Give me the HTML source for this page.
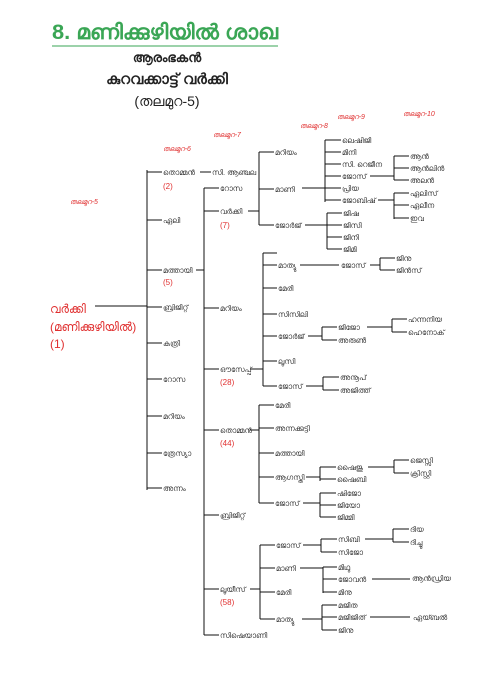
<!DOCTYPE html>
<html><head><meta charset="utf-8">
<style>
html,body{margin:0;padding:0;background:#fff;}
svg{display:block;}
text{font-family:"Liberation Sans","DejaVu Sans",sans-serif;}
.n{font-size:7.5px;fill:#333;}
.r{font-size:8px;fill:#e03030;}
.g{font-size:7px;fill:#e03030;font-style:italic;}
</style></head><body>
<svg width="497" height="690" viewBox="0 0 497 690" xmlns="http://www.w3.org/2000/svg">
<text x="52" y="39" textLength="226" lengthAdjust="spacingAndGlyphs" style="font-size:21px;font-weight:bold;fill:#3aa655">8. മണിക്കുഴിയിൽ ശാഖ</text>
<line x1="52" y1="46" x2="278" y2="46" stroke="#3aa655" stroke-width="1"/>
<text x="167" y="62" text-anchor="middle" style="font-size:13px;font-weight:bold;fill:#222">ആരംഭകൻ</text>
<text x="167" y="84" text-anchor="middle" style="font-size:15px;font-weight:bold;fill:#222">കുറവക്കാട്ട് വർക്കി</text>
<text x="167" y="106" text-anchor="middle" style="font-size:14px;fill:#222">(തലമുറ-5)</text>

<text class="g" x="70" y="204">തലമുറ-5</text>
<text class="g" x="163" y="151">തലമുറ-6</text>
<text class="g" x="213" y="137">തലമുറ-7</text>
<text class="g" x="300" y="128">തലമുറ-8</text>
<text class="g" x="337" y="119">തലമുറ-9</text>
<text class="g" x="403" y="116">തലമുറ-10</text>

<text x="50" y="313" style="font-size:12px;fill:#e03030">വർക്കി</text>
<text x="50" y="331" style="font-size:12px;fill:#e03030">(മണിക്കുഴിയിൽ)</text>
<text x="50" y="348" style="font-size:12px;fill:#e03030">(1)</text>

<g stroke="#111" stroke-width="1" fill="none">
<path d="M95 306H147M147 170V490M147 172H162M147 220H162M147 270H162M147 307H162M147 343H162M147 379H162M147 416H162M147 453H162M147 488H162"/>
<path d="M200 172H211"/>
<path d="M196 270H204M204 188V635M204 188H219M204 211H219M204 308H219M204 369H219M204 430H219M204 515H219M204 589H219M204 635H219"/>
<path d="M248 211H259M259 152V225M259 152H274M259 189H274M259 225H274"/>
<path d="M302 188H325M325 140V202M325 140H341M325 152H341M325 164H341M325 176H341M325 188H341M325 200H341"/>
<path d="M370 176H394M394 156V180M394 156H409M394 168H409M394 180H409"/>
<path d="M378 200H394M394 193V219M394 193H409M394 205H409M394 218H409"/>
<path d="M305 225H327M327 213V249M327 213H342M327 225H342M327 237H342M327 249H342"/>
<path d="M250 369H263M263 253V386M263 253H277M263 265H277M263 288H277M263 314H277M263 336H277M263 361H277M263 386H277"/>
<path d="M300 265H339M370 265H380M380 258V270M380 258H395M380 270H395"/>
<path d="M308 336H322M322 327V340M322 327H337M322 340H337M367 327H392M392 319V332M392 319H407M392 332H407"/>
<path d="M306 386H323M323 377V390M323 377H339M323 390H339"/>
<path d="M250 430H259M259 405V503M259 405H274M259 428H274M259 453H274M259 477H274M259 503H274"/>
<path d="M306 477H320M320 467V481M320 467H336M320 479H336M368 467H394M394 460V473M394 460H409M394 473H409"/>
<path d="M303 503H320M320 493V517M320 493H336M320 505H336M320 517H336"/>
<path d="M250 589H260M260 545V619M260 545H275M260 568H275M260 592H275M260 619H275"/>
<path d="M303 545H321M321 539V552M321 539H337M321 552H337M365 539H393M393 529V542M393 529H409M393 542H409"/>
<path d="M300 568H323M323 567V593M323 567H337M323 579H337M323 592H337M372 579H410"/>
<path d="M302 619H322M322 605V630M322 605H337M322 617H337M322 630H337M370 617H410"/>
</g>

<g class="n">
<text x="163" y="175">തൊമ്മൻ</text><text class="r" x="163" y="189">(2)</text>
<text x="163" y="223">ഏലി</text>
<text x="163" y="273">മത്തായി</text><text class="r" x="163" y="285">(5)</text>
<text x="163" y="310">ബ്രിജിറ്റ്</text>
<text x="163" y="346">കത്രി</text>
<text x="163" y="382">റോസ</text>
<text x="163" y="419">മറിയം</text>
<text x="163" y="456">ത്രേസ്യാ</text>
<text x="163" y="491">അന്നം</text>

<text x="212" y="175">സി. ആഞ്ചല</text>
<text x="220" y="191">റോസ</text>
<text x="220" y="214">വർക്കി</text><text class="r" x="220" y="228">(7)</text>
<text x="220" y="311">മറിയം</text>
<text x="220" y="372">ഔസേപ്പ്</text><text class="r" x="220" y="385">(28)</text>
<text x="220" y="433">തൊമ്മൻ</text><text class="r" x="220" y="446">(44)</text>
<text x="220" y="518">ബ്രിജിറ്റ്</text>
<text x="220" y="592">ലൂയീസ്</text><text class="r" x="220" y="605">(58)</text>
<text x="220" y="638">സിഷെയാണി</text>

<text x="275" y="155">മറിയം</text>
<text x="275" y="192">മാണി</text>
<text x="275" y="228">ജോർജ്</text>
<text x="342" y="143">ലെഷിജി</text>
<text x="342" y="155">മിനി</text>
<text x="342" y="167">സി. റെജീന</text>
<text x="342" y="179">ജോസ്</text>
<text x="342" y="191">പ്രിയ</text>
<text x="342" y="203">ജോബിഷ്</text>
<text x="410" y="159">ആൻ</text>
<text x="410" y="171">ആൻലിൻ</text>
<text x="410" y="183">അലൻ</text>
<text x="410" y="196">ഏലിസ്</text>
<text x="410" y="208">ഏലീന</text>
<text x="410" y="221">ഇവ</text>
<text x="343" y="216">ജിഷ</text>
<text x="343" y="228">ജിസി</text>
<text x="343" y="240">ജിനി</text>
<text x="343" y="252">ജിമി</text>

<text x="278" y="268">മാത്യു</text>
<text x="278" y="291">മേരി</text>
<text x="278" y="317">സിസിലി</text>
<text x="278" y="339">ജോർജ്</text>
<text x="278" y="364">ലൂസി</text>
<text x="278" y="389">ജോസ്</text>
<text x="341" y="268">ജോസ്</text>
<text x="396" y="261">ജിനു</text>
<text x="396" y="273">ജിൻസ്</text>
<text x="338" y="330">ജിജോ</text>
<text x="338" y="343">അരുൺ</text>
<text x="408" y="322">ഹന്നനിയ</text>
<text x="408" y="335">ഹെനോക്</text>
<text x="340" y="380">അനൂപ്</text>
<text x="340" y="393">അജിത്ത്</text>

<text x="275" y="408">മേരി</text>
<text x="275" y="431">അന്നക്കുട്ടി</text>
<text x="275" y="456">മത്തായി</text>
<text x="275" y="480">ആഗസ്തി</text>
<text x="275" y="506">ജോസ്</text>
<text x="337" y="470">ഷൈജു</text>
<text x="337" y="482">ഷൈബി</text>
<text x="410" y="463">ജെസ്സി</text>
<text x="410" y="476">ക്രിസ്റ്റി</text>
<text x="337" y="496">ഷിജോ</text>
<text x="337" y="508">ജിയോ</text>
<text x="337" y="520">ജിമ്മി</text>

<text x="276" y="548">ജോസ്</text>
<text x="276" y="571">മാണി</text>
<text x="276" y="595">മേരി</text>
<text x="276" y="622">മാത്യു</text>
<text x="338" y="542">സിബി</text>
<text x="338" y="555">സിജോ</text>
<text x="410" y="532">ദിയ</text>
<text x="410" y="545">ദിച്ചു</text>
<text x="338" y="570">മിഥു</text>
<text x="338" y="582">ജോവൻ</text>
<text x="338" y="595">മിനു</text>
<text x="412" y="581">ആൻഡ്രിയ</text>
<text x="338" y="608">മജിത</text>
<text x="338" y="620">മജിജിത്</text>
<text x="338" y="633">ജിനു</text>
<text x="413" y="620">ഏയ്ബൽ</text>
</g>
</svg>
</body></html>
